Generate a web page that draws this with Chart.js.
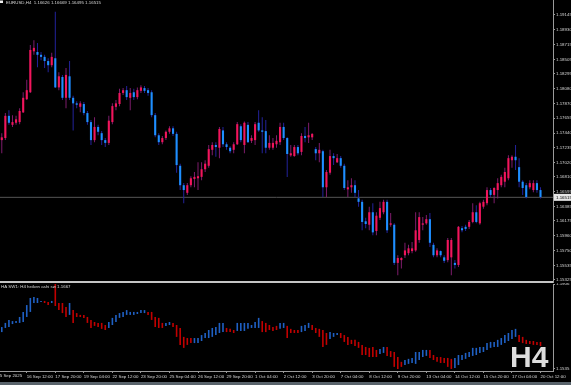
<!DOCTYPE html>
<html lang="en">
<head>
<meta charset="UTF-8">
<title>EURUSD H4 Heiken Ashi</title>
<script src="https://cdn.jsdelivr.net/npm/chart.js"></script>
<style>
  html, body { margin: 0; padding: 0; background: #000; }
  #wrap { position: relative; width: 571px; height: 385px; background: #000; overflow: hidden; }
  #priceChart { position: absolute; left: 0; top: 0; }
  #swChart { position: absolute; left: 0; top: 283px; }
  #sep { position: absolute; left: 0; top: 281px; width: 553px; height: 2px; background: #c4c4c4; }
  #status { position: absolute; left: 0; top: 382px; width: 571px; height: 3px; background: #59636b; }
</style>
</head>
<body>
<div id="wrap">
  <canvas id="priceChart" width="571" height="283"></canvas>
  <canvas id="swChart" width="571" height="102"></canvas>
  <div id="sep"></div>
  <div id="status"></div>
</div>
<script>
// texts
const titleText = 'EURUSD,H4  1.16626 1.16669 1.16495 1.16515';
const swTitle = 'HA SW1: H4 heiken ashi sw 1.1667';
const tfText = 'H4';
const lastPrice = 1.16515;

// right axis labels
const priceTicks = [1.19145, 1.18930, 1.18715, 1.18505, 1.18295, 1.18080, 1.17870, 1.17655, 1.17440,
  1.17235, 1.17020, 1.16810, 1.16595, 1.16385, 1.16175, 1.15960, 1.15750, 1.15535, 1.15325];
const swTicks = [1.1906, 1.1535];

// bottom time labels (first one at bar 0, then every 8 bars from bar 7)
const dateTicks = ['15 Sep 2025', '16 Sep 12:00', '17 Sep 20:00', '19 Sep 04:00', '22 Sep 12:00',
  '23 Sep 20:00', '25 Sep 04:00', '26 Sep 12:00', '29 Sep 20:00', '1 Oct 04:00', '2 Oct 12:00',
  '3 Oct 20:00', '7 Oct 04:00', '8 Oct 12:00', '9 Oct 20:00', '13 Oct 04:00', '14 Oct 12:00',
  '15 Oct 20:00', '17 Oct 04:00', '20 Oct 12:00'];

// heiken ashi candles
const haOpen = [1.1734,1.1737,1.1769,1.1756,1.1759,1.1760,1.1774,1.1793,1.1803,1.1862,
  1.1861,1.1857,1.1854,1.1848,1.1842,1.1852,1.1810,1.1825,1.1795,1.1826,
  1.1795,1.1787,1.1782,1.1786,1.1773,1.1760,1.1734,1.1753,1.1744,1.1734,
  1.1730,1.1760,1.1782,1.1786,1.1802,1.1806,1.1795,1.1803,1.1796,1.1805,
  1.1809,1.1806,1.1803,1.1770,1.1741,1.1731,1.1737,1.1746,1.1751,1.1743,
  1.1697,1.1669,1.1658,1.1669,1.1678,1.1679,1.1681,1.1692,1.1697,1.1720,
  1.1727,1.1723,1.1748,1.1728,1.1723,1.1720,1.1728,1.1754,1.1727,1.1756,
  1.1733,1.1734,1.1759,1.1748,1.1747,1.1723,1.1723,1.1728,1.1731,1.1753,
  1.1737,1.1712,1.1711,1.1724,1.1717,1.1740,1.1738,1.1738,1.1721,1.1715,
  1.1718,1.1666,1.1687,1.1711,1.1702,1.1708,1.1697,1.1663,1.1666,1.1669,
  1.1650,1.1645,1.1617,1.1612,1.1630,1.1603,1.1622,1.1630,1.1645,1.1612,
  1.1612,1.1557,1.1561,1.1568,1.1571,1.1574,1.1575,1.1590,1.1612,1.1614,
  1.1620,1.1583,1.1568,1.1574,1.1565,1.1561,1.1565,1.1557,1.1554,1.1607,
  1.1609,1.1609,1.1616,1.1630,1.1614,1.1638,1.1643,1.1662,1.1655,1.1662,
  1.1669,1.1674,1.1679,1.1705,1.1710,1.1695,1.1674,1.1669,1.1666,1.1662,
  1.1672,1.1662];
const haHigh = [1.1744,1.1773,1.1777,1.1770,1.1769,1.1780,1.1803,1.1821,1.1871,1.1878,
  1.1874,1.1861,1.1857,1.1852,1.1860,1.1919,1.1832,1.1828,1.1838,1.1848,
  1.1798,1.1790,1.1790,1.1789,1.1776,1.1763,1.1767,1.1756,1.1747,1.1737,
  1.1769,1.1787,1.1792,1.1808,1.1809,1.1812,1.1809,1.1808,1.1810,1.1813,
  1.1812,1.1809,1.1806,1.1773,1.1744,1.1740,1.1748,1.1754,1.1754,1.1746,
  1.1700,1.1672,1.1672,1.1682,1.1688,1.1702,1.1702,1.1705,1.1727,1.1731,
  1.1731,1.1753,1.1753,1.1731,1.1725,1.1731,1.1760,1.1757,1.1761,1.1760,
  1.1741,1.1760,1.1777,1.1767,1.1763,1.1741,1.1737,1.1741,1.1759,1.1759,
  1.1738,1.1727,1.1727,1.1727,1.1744,1.1753,1.1759,1.1744,1.1724,1.1730,
  1.1720,1.1691,1.1720,1.1715,1.1714,1.1711,1.1700,1.1676,1.1679,1.1676,
  1.1662,1.1648,1.1622,1.1638,1.1643,1.1630,1.1645,1.1648,1.1648,1.1629,
  1.1614,1.1568,1.1565,1.1586,1.1583,1.1587,1.1630,1.1630,1.1623,1.1626,
  1.1629,1.1586,1.1578,1.1575,1.1568,1.1593,1.1593,1.1561,1.1610,1.1610,
  1.1612,1.1619,1.1643,1.1640,1.1645,1.1648,1.1666,1.1665,1.1666,1.1679,
  1.1684,1.1694,1.1712,1.1712,1.1727,1.1708,1.1676,1.1672,1.1676,1.1676,
  1.1676,1.1666];
const haLow = [1.1715,1.1734,1.1756,1.1753,1.1756,1.1757,1.1773,1.1792,1.1802,1.1857,
  1.1839,1.1849,1.1838,1.1832,1.1839,1.1809,1.1806,1.1792,1.1780,1.1792,
  1.1748,1.1780,1.1774,1.1770,1.1756,1.1727,1.1731,1.1741,1.1727,1.1724,
  1.1727,1.1757,1.1777,1.1783,1.1799,1.1792,1.1777,1.1792,1.1793,1.1802,
  1.1802,1.1798,1.1767,1.1738,1.1727,1.1728,1.1734,1.1743,1.1740,1.1687,
  1.1662,1.1643,1.1655,1.1666,1.1666,1.1662,1.1676,1.1688,1.1694,1.1712,
  1.1710,1.1708,1.1724,1.1720,1.1715,1.1715,1.1727,1.1731,1.1715,1.1730,
  1.1730,1.1727,1.1746,1.1715,1.1715,1.1720,1.1720,1.1723,1.1727,1.1734,
  1.1681,1.1710,1.1710,1.1712,1.1712,1.1731,1.1730,1.1734,1.1705,1.1702,
  1.1652,1.1652,1.1684,1.1698,1.1701,1.1694,1.1662,1.1652,1.1658,1.1652,
  1.1638,1.1604,1.1607,1.1604,1.1597,1.1597,1.1619,1.1627,1.1600,1.1609,
  1.1554,1.1539,1.1549,1.1564,1.1568,1.1571,1.1573,1.1586,1.1604,1.1612,
  1.1580,1.1565,1.1565,1.1565,1.1557,1.1558,1.1539,1.1549,1.1551,1.1601,
  1.1603,1.1606,1.1614,1.1614,1.1612,1.1635,1.1640,1.1652,1.1643,1.1650,
  1.1666,1.1666,1.1676,1.1694,1.1691,1.1666,1.1655,1.1650,1.1663,1.1659,
  1.1658,1.1650];
const haClose = [1.1738,1.1769,1.1759,1.1760,1.1764,1.1776,1.1795,1.1806,1.1864,1.1867,
  1.1857,1.1854,1.1848,1.1842,1.1854,1.1810,1.1826,1.1795,1.1828,1.1795,
  1.1787,1.1785,1.1787,1.1773,1.1760,1.1734,1.1753,1.1746,1.1734,1.1730,
  1.1762,1.1783,1.1787,1.1802,1.1806,1.1796,1.1802,1.1796,1.1806,1.1810,
  1.1805,1.1802,1.1770,1.1741,1.1731,1.1737,1.1746,1.1751,1.1743,1.1698,
  1.1669,1.1662,1.1669,1.1679,1.1681,1.1682,1.1692,1.1700,1.1721,1.1727,
  1.1724,1.1750,1.1728,1.1724,1.1718,1.1728,1.1757,1.1734,1.1759,1.1731,
  1.1737,1.1757,1.1748,1.1746,1.1723,1.1730,1.1730,1.1733,1.1753,1.1737,
  1.1714,1.1715,1.1724,1.1715,1.1740,1.1737,1.1741,1.1743,1.1715,1.1720,
  1.1666,1.1688,1.1711,1.1708,1.1708,1.1697,1.1665,1.1666,1.1669,1.1658,
  1.1645,1.1616,1.1613,1.1630,1.1601,1.1625,1.1636,1.1645,1.1604,1.1614,
  1.1557,1.1564,1.1564,1.1575,1.1578,1.1578,1.1604,1.1623,1.1614,1.1620,
  1.1586,1.1568,1.1575,1.1568,1.1560,1.1590,1.1590,1.1554,1.1609,1.1604,
  1.1606,1.1616,1.1630,1.1616,1.1643,1.1645,1.1662,1.1655,1.1665,1.1672,
  1.1681,1.1688,1.1708,1.1710,1.1705,1.1674,1.1665,1.1652,1.1672,1.1672,
  1.1662,1.1652];

// heiken ashi smoothed (lower window)
const swOpen = [1.1696,1.1714,1.1718,1.1731,1.1736,1.1736,1.1740,1.1762,1.1784,1.1823,
  1.1823,1.1827,1.1832,1.1827,1.1823,1.1906,1.1823,1.1823,1.1806,1.1771,
  1.1792,1.1779,1.1771,1.1771,1.1762,1.1749,1.1740,1.1736,1.1736,1.1727,
  1.1714,1.1727,1.1740,1.1758,1.1762,1.1771,1.1771,1.1771,1.1775,1.1779,
  1.1779,1.1784,1.1784,1.1762,1.1758,1.1736,1.1723,1.1727,1.1736,1.1727,
  1.1714,1.1675,1.1670,1.1670,1.1648,1.1648,1.1657,1.1670,1.1670,1.1675,
  1.1683,1.1692,1.1696,1.1714,1.1710,1.1705,1.1701,1.1701,1.1701,1.1710,
  1.1714,1.1714,1.1714,1.1744,1.1736,1.1727,1.1718,1.1723,1.1710,1.1714,
  1.1723,1.1710,1.1705,1.1705,1.1696,1.1701,1.1714,1.1727,1.1714,1.1710,
  1.1705,1.1692,1.1666,1.1675,1.1683,1.1692,1.1683,1.1675,1.1662,1.1662,
  1.1653,1.1640,1.1631,1.1627,1.1631,1.1618,1.1600,1.1605,1.1631,1.1613,
  1.1609,1.1587,1.1566,1.1552,1.1557,1.1561,1.1557,1.1574,1.1587,1.1592,
  1.1618,1.1596,1.1587,1.1587,1.1583,1.1583,1.1579,1.1539,1.1552,1.1574,
  1.1579,1.1587,1.1592,1.1596,1.1605,1.1609,1.1618,1.1627,1.1631,1.1631,
  1.1640,1.1648,1.1657,1.1666,1.1675,1.1683,1.1675,1.1662,1.1657,1.1657,
  1.1653,1.1653];
const swClose = [1.1718,1.1736,1.1749,1.1744,1.1744,1.1762,1.1784,1.1814,1.1845,1.1849,
  1.1845,1.1832,1.1823,1.1814,1.1832,1.1810,1.1792,1.1779,1.1762,1.1823,
  1.1736,1.1762,1.1762,1.1758,1.1736,1.1714,1.1723,1.1718,1.1710,1.1705,
  1.1740,1.1758,1.1771,1.1779,1.1784,1.1792,1.1784,1.1784,1.1784,1.1792,
  1.1792,1.1771,1.1749,1.1718,1.1714,1.1714,1.1736,1.1740,1.1718,1.1675,
  1.1640,1.1627,1.1640,1.1648,1.1670,1.1670,1.1683,1.1692,1.1705,1.1714,
  1.1718,1.1736,1.1736,1.1696,1.1696,1.1692,1.1736,1.1736,1.1736,1.1736,
  1.1727,1.1740,1.1758,1.1696,1.1696,1.1705,1.1701,1.1705,1.1736,1.1736,
  1.1670,1.1692,1.1692,1.1692,1.1723,1.1727,1.1736,1.1705,1.1692,1.1675,
  1.1631,1.1640,1.1696,1.1692,1.1692,1.1670,1.1653,1.1640,1.1644,1.1635,
  1.1627,1.1596,1.1596,1.1587,1.1587,1.1587,1.1622,1.1631,1.1592,1.1587,
  1.1544,1.1535,1.1544,1.1574,1.1579,1.1583,1.1609,1.1609,1.1618,1.1618,
  1.1583,1.1574,1.1566,1.1561,1.1561,1.1544,1.1535,1.1583,1.1596,1.1596,
  1.1605,1.1609,1.1627,1.1627,1.1631,1.1631,1.1648,1.1653,1.1653,1.1662,
  1.1670,1.1683,1.1692,1.1705,1.1710,1.1653,1.1648,1.1644,1.1644,1.1640,
  1.1640,1.1635];

// H4 bar times, weekends skipped; 3 empty slots at the right (chart shift)
const barTimes = [];
for (let t = Date.UTC(2025, 8, 15, 8); barTimes.length < 155; t += 4 * 3600e3) {
  const wd = new Date(t).getUTCDay();
  if (wd === 0 || wd === 6) continue;
  barTimes.push(new Date(t).toISOString().slice(0, 16));
}
// the first label is drawn by the plugin (it hangs off the left edge in MT4)
const tickText = {};
dateTicks.forEach((s, i) => { if (i > 0) tickText[7 + 8 * (i - 1)] = s; });

const axisFont = { family: 'Liberation Sans', size: 4.4 };
const axisColor = '#9a9a9a';
const textColor = '#d8d8d8';

const bullBody = '#f2155c', bullWick = '#7e1c6c';
const bearBody = '#1e8fff', bearWick = '#23239c';
const swUp = '#1f60c4', swDown = '#c20000';

const rightAxis = (min, max, ticks, digits) => ({
  position: 'right', min: min, max: max,
  afterFit(s) { s.width = 18; s.paddingTop = 0; s.paddingBottom = 0; },
  afterBuildTicks(s) { s.ticks = ticks.map(v => ({ value: v })); },
  ticks: { color: textColor, font: axisFont, padding: 1, callback: v => v.toFixed(digits) },
  grid: { drawOnChartArea: false, color: axisColor, tickLength: 2 },
  border: { color: axisColor }
});

const pricePlugin = {
  id: 'pricePlugin',
  beforeDatasetsDraw(chart) {
    const { ctx, chartArea } = chart;
    const y = chart.scales.y.getPixelForValue(lastPrice);
    ctx.save();
    ctx.strokeStyle = '#555';
    ctx.lineWidth = 1;
    ctx.beginPath();
    ctx.moveTo(chartArea.left, y);
    ctx.lineTo(chartArea.right, y);
    ctx.stroke();
    ctx.restore();
  },
  afterDraw(chart) {
    const { ctx, chartArea } = chart;
    const y = chart.scales.y.getPixelForValue(lastPrice);
    ctx.save();
    ctx.fillStyle = '#e6e6e6';
    ctx.fillRect(chartArea.right + 1, y - 3.5, 18, 7);
    ctx.fillStyle = '#000';
    ctx.font = '4.4px "Liberation Sans"';
    ctx.textBaseline = 'middle';
    ctx.fillText(lastPrice.toFixed(5), chartArea.right + 3, y);
    // title
    ctx.fillStyle = '#f0f0f0';
    ctx.fillRect(0, 0.5, 3, 2.5);
    ctx.fillStyle = textColor;
    ctx.textBaseline = 'top';
    ctx.fillText(titleText, 6, 0.5);
    ctx.restore();
  }
};

new Chart(document.getElementById('priceChart'), {
  type: 'bar',
  data: {
    labels: barTimes,
    datasets: [
      {
        data: haOpen.map((o, i) => [o, haClose[i]]),
        grouped: false, order: 0, barThickness: 2.1, minBarLength: 1, inflateAmount: 0,
        backgroundColor: c => haClose[c.dataIndex] >= haOpen[c.dataIndex] ? bullBody : bearBody
      },
      {
        data: haLow.map((l, i) => [l, haHigh[i]]),
        grouped: false, order: 1, barThickness: 1, inflateAmount: 0,
        backgroundColor: c => haClose[c.dataIndex] >= haOpen[c.dataIndex] ? bullWick : bearWick
      }
    ]
  },
  options: {
    responsive: false, animation: false,
    layout: { padding: 0 },
    plugins: { legend: { display: false }, tooltip: { enabled: false } },
    scales: {
      x: { display: false, offset: true, grid: { display: false } },
      y: rightAxis(1.1528, 1.1936, priceTicks, 5)
    }
  },
  plugins: [pricePlugin]
});

const swPlugin = {
  id: 'swPlugin',
  afterDraw(chart) {
    const { ctx } = chart;
    const xs = chart.scales.x;
    ctx.save();
    ctx.fillStyle = textColor;
    ctx.font = '4.4px "Liberation Sans"';
    ctx.textBaseline = 'top';
    ctx.fillText(swTitle, 1, 1.5);
    ctx.fillText(dateTicks[0], xs.getPixelForValue(0) - 4.5, xs.top + 3);
    ctx.fillStyle = '#dcdcdc';
    ctx.font = 'bold 30px "Liberation Sans"';
    ctx.textBaseline = 'alphabetic';
    ctx.fillText(tfText, 510, 84);
    ctx.restore();
  }
};

new Chart(document.getElementById('swChart'), {
  type: 'bar',
  data: {
    labels: barTimes,
    datasets: [{
      data: swOpen.map((o, i) => [o, swClose[i]]),
      grouped: false, barThickness: 1.6, minBarLength: 1, inflateAmount: 0,
      backgroundColor: c => swClose[c.dataIndex] >= swOpen[c.dataIndex] ? swUp : swDown
    }]
  },
  options: {
    responsive: false, animation: false,
    layout: { padding: { top: 1 } },
    plugins: { legend: { display: false }, tooltip: { enabled: false } },
    scales: {
      x: {
        offset: true,
        afterFit(s) { s.height = 14; s.paddingLeft = 0; s.paddingRight = 0; },
        ticks: {
          autoSkip: false, maxRotation: 0, align: 'start', padding: 1,
          color: textColor, font: axisFont,
          callback: (v, i) => tickText[i] || ''
        },
        grid: {
          offset: false, drawOnChartArea: false, tickLength: 2,
          color: c => tickText[c.index] ? axisColor : 'rgba(0,0,0,0)'
        },
        border: { color: axisColor }
      },
      y: rightAxis(1.1526, 1.1906, swTicks, 4)
    }
  },
  plugins: [swPlugin]
});
</script>
</body>
</html>
